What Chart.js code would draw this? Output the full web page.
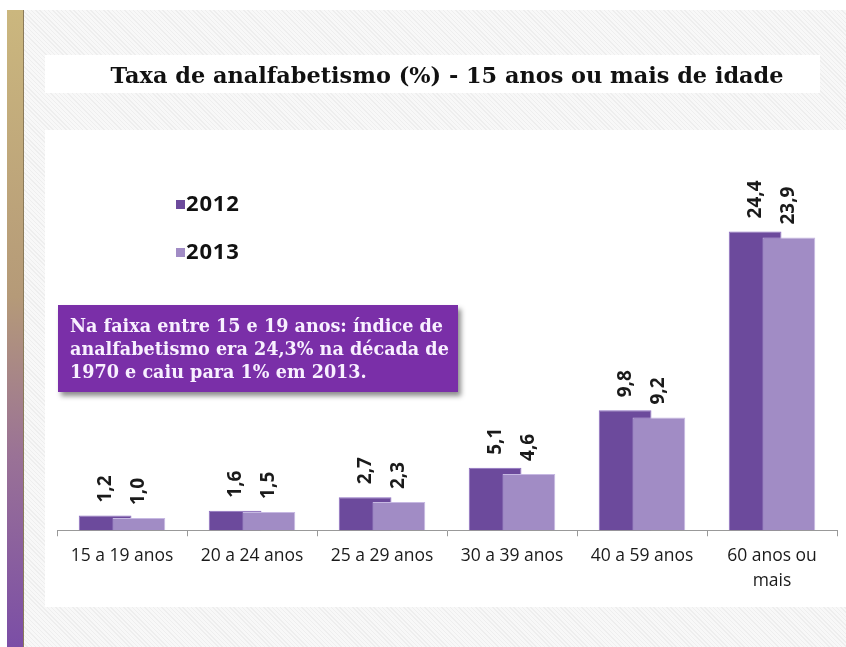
<!DOCTYPE html>
<html>
<head>
<meta charset="utf-8">
<script src="https://cdn.jsdelivr.net/npm/chart.js@4.4.1/dist/chart.umd.min.js"></script>
<style>
  html, body { margin: 0; padding: 0; background: #fff; }
  #page { position: relative; width: 846px; height: 647px; overflow: hidden; background: #fff; }
  .stripe { position: absolute; left: 7px; top: 10px; width: 16px; height: 637px;
    background: linear-gradient(to bottom, #cbb77e 0%, #b59a78 45%, #9a7296 70%, #7b4ea6 100%);
    border-right: 1px solid #8a7a5a; }
  .hatch { position: absolute; left: 24px; top: 10px; right: 0; bottom: 0;
    background: repeating-linear-gradient(45deg, #f8f8f8 0px, #f8f8f8 2px, #eeeeee 2px, #eeeeee 3px); }
  .box { position: absolute; background: #fff; }
  #legend { position: absolute; left: 176px; top: 188px; font-family: "Open Sans", sans-serif;
    font-weight: bold; font-size: 22px; color: #111; letter-spacing: 0.8px; }
  #legend div { height: 28px; line-height: 28px; margin-bottom: 20px; }
  #legend span.mk { display: inline-block; width: 9px; height: 9px; margin-right: 1px; vertical-align: 2px; }
  #note { position: absolute; left: 58px; top: 305px; width: 400px; height: 87px; box-sizing: border-box;
    background: #7a2fa8; box-shadow: 3px 4px 5px rgba(0,0,0,0.45); color: #f8f0ff;
    font-family: "DejaVu Serif", serif; font-weight: bold; font-size: 17.6px; line-height: 23px;
    padding: 9px 0 0 12px; white-space: nowrap; }
  canvas { position: absolute; left: 0; top: 0; }
</style>
</head>
<body>
<div id="page">
  <div class="stripe"></div>
  <div class="hatch"></div>
  <div class="box" style="left:45px; top:55px; width:775px; height:38px;"></div>
  <div class="box" style="left:45px; top:130px; right:0; height:477px;"></div>
  <canvas id="myChart" width="846" height="647"></canvas>
  <div id="legend"></div>
  <div id="note">Na faixa entre 15 e 19 anos: índice de<br>analfabetismo era 24,3% na década de<br>1970 e caiu para 1% em 2013.</div>
</div>
<script>
const categories = ["15 a 19 anos", "20 a 24 anos", "25 a 29 anos", "30 a 39 anos", "40 a 59 anos", ["60 anos ou", "mais"]];
const seriesNames = ["2012", "2013"];
const values2012 = [1.2, 1.6, 2.7, 5.1, 9.8, 24.4];
const values2013 = [1.0, 1.5, 2.3, 4.6, 9.2, 23.9];
const fillColors = ["#6c4a9c", "#a18cc5"];
const edgeColors = ["#8d6fc0", "#c6b8e2"];

// legend as html
const legendEl = document.getElementById("legend");
seriesNames.forEach((name, i) => {
    const row = document.createElement("div");
    row.innerHTML = '<span class="mk" style="background:' + fillColors[i] + '"></span>' + name;
    legendEl.appendChild(row);
});

// 2013 bars overlap 2012 bars, so draw dataset 0 first
const drawOrder = {
    id: "drawOrder",
    beforeDatasetsDraw(chart) {
        chart.getDatasetMeta(0).controller.draw();
    },
    beforeDatasetDraw(chart, args) {
        if (args.index === 0) return false;
    }
};

// vertical value labels above the bars
const valueLabels = {
    id: "valueLabels",
    afterDatasetsDraw(chart) {
        const ctx = chart.ctx;
        ctx.save();
        ctx.font = "bold 19px 'Open Sans', sans-serif";
        ctx.fillStyle = "#1a1a1a";
        ctx.textAlign = "left";
        ctx.textBaseline = "middle";
        chart.data.datasets.forEach((ds, di) => {
            chart.getDatasetMeta(di).data.forEach((bar, i) => {
                ctx.save();
                ctx.translate(bar.x, bar.y - 13);
                ctx.rotate(-Math.PI / 2);
                ctx.fillText(ds.data[i].toFixed(1).replace(".", ","), 0, 0);
                ctx.restore();
            });
        });
        ctx.restore();
    }
};

const ctx = document.getElementById("myChart").getContext("2d");
new Chart(ctx, {
    type: "bar",
    data: {
        labels: categories,
        datasets: [{
            label: seriesNames[0],
            data: values2012,
            backgroundColor: fillColors[0],
            borderColor: edgeColors[0],
            borderWidth: 1
        }, {
            label: seriesNames[1],
            data: values2013,
            backgroundColor: fillColors[1],
            borderColor: edgeColors[1],
            borderWidth: 1
        }]
    },
    options: {
        responsive: false,
        animation: false,
        categoryPercentage: 0.52,
        barPercentage: 1.56,
        layout: { padding: { left: 57, right: 9, top: 0, bottom: 46 } },
        plugins: {
            legend: { display: false },
            tooltip: { enabled: false },
            title: {
                display: true,
                text: "Taxa de analfabetismo (%) - 15 anos ou mais de idade",
                color: "#111",
                font: { family: "'DejaVu Serif', serif", weight: "bold", size: 22.4 },
                padding: { top: 64, bottom: 72 }
            }
        },
        scales: {
            x: {
                grid: { drawOnChartArea: false, color: "#999", tickLength: 6 },
                border: { color: "#999" },
                ticks: { color: "#1a1a1a", padding: 7, font: { family: "'Open Sans', sans-serif", size: 17.5, lineHeight: 1.45 } }
            },
            y: {
                display: false,
                min: 0,
                max: 30
            }
        }
    },
    plugins: [drawOrder, valueLabels]
});
</script>
</body>
</html>
